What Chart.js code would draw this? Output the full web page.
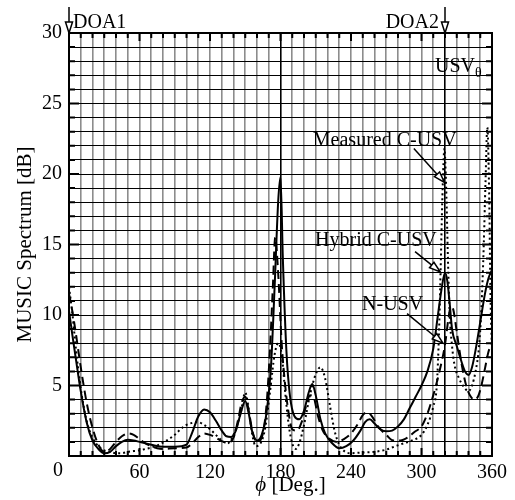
<!DOCTYPE html>
<html>
<head>
<meta charset="utf-8">
<style>
  html, body { margin: 0; padding: 0; background: #fff; }
  #wrap { width: 515px; height: 500px; }
</style>
</head>
<body>
<div id="wrap"><canvas id="spectrumChart"></canvas></div>

<script src="https://cdn.jsdelivr.net/npm/chart.js"></script>
<script>
// angles in degrees, spectrum in dB
const hybridDeg = [0,3,6,10,15,20,25,30,35,40,45,50,55,60,70,80,90,100,105,110,115,120,125,130,134,138,142,146,150,153,156,160,164,168,172,175,178,180,182,185,188,192,196,200,204,207,210,214,218,224,230,236,242,248,252,256,260,265,270,275,280,285,290,295,300,305,310,314,317,320,322,324,326,330,334,337,340,343,346,350,354,357,360];
const hybridDb  = [10.3,8.5,6.8,4.6,2.4,1.1,0.5,0.2,0.3,0.7,1.0,1.15,1.1,1.0,0.8,0.65,0.65,0.8,1.7,2.8,3.3,3.1,2.5,1.8,1.4,1.35,1.8,3.0,3.9,3.0,1.7,1.1,1.5,3.0,6.5,12,18,19.8,14,7.5,4.3,2.8,2.6,3.2,4.5,5.1,4.3,2.6,1.6,0.9,0.55,0.7,1.1,1.8,2.4,2.6,2.3,1.9,1.75,1.8,2.1,2.6,3.4,4.2,5.0,6.0,7.6,10.0,11.8,13.0,12.4,10.8,9.0,7.8,6.7,6.0,5.75,6.3,7.5,9.5,11.5,12.6,13.2];

const nusvDeg = [0,3,6,10,15,20,25,30,35,40,45,50,55,60,65,70,75,80,90,100,105,110,115,120,125,130,135,140,144,147,150,153,156,160,164,168,171,173.5,175.5,178,181,184,187,190,194,198,202,205,208,212,216,222,228,234,240,246,250,254,258,263,270,276,282,288,294,300,305,310,315,320,323,325,327,330,334,338,342,345,348,351,354,357,360];
const nusvDb  = [11.5,10.2,8.6,6.3,3.8,2.0,0.8,0.3,0.5,1.0,1.4,1.6,1.5,1.2,0.9,0.7,0.55,0.5,0.55,0.6,0.9,1.35,1.6,1.5,1.3,1.05,0.95,1.3,2.6,3.8,4.2,3.2,1.8,1.0,1.3,3.5,7.5,12,15.5,13,8,5,3,1.9,1.8,2.4,3.6,4.3,4.2,2.8,1.8,1.2,1.0,1.2,1.6,2.3,2.9,3.1,2.8,2.1,1.5,1.1,1.1,1.3,1.7,2.1,3.0,4.3,5.9,7.9,9.8,10.6,10.4,8.8,6.6,5.0,4.2,4.0,4.2,5.0,6.2,7.4,8.0];

const measDeg = [0,3,6,10,15,20,25,30,35,40,45,50,55,60,65,70,75,80,85,90,95,100,105,110,115,120,125,130,135,140,146,150,153,156,159,163,167,171,175,178,181,184,187,190,193,196,200,205,210,214,218,222,226,230,235,240,250,260,270,278,285,292,300,305,310,313,315,316.5,318,319.5,321,322.5,324,326,328,332,336,340,343,346,349,351,353,354.5,356,357.5,358.8,360];
const measDb  = [12,10,7.5,4.8,2.5,1.3,0.7,0.4,0.3,0.2,0.2,0.3,0.35,0.4,0.5,0.6,0.75,0.95,1.2,1.5,1.9,2.2,2.35,2.4,2.2,1.9,1.5,1.1,0.9,1.5,3.0,4.5,3.3,1.5,0.7,0.9,2.0,4.5,7.2,8.0,7.2,4.5,2.2,0.9,0.5,0.9,2.2,4.3,5.8,6.3,5.5,3.6,1.8,0.8,0.3,0.2,0.25,0.3,0.45,0.7,0.9,1.1,1.5,2.2,3.5,5,9,14,19,21.8,19,14,10,7.8,6.5,5.5,4.9,4.6,5.0,6.0,7.8,10.5,15,19.5,23.3,19,11,7.5];

const xLabels = [60, 120, 180, 240, 300, 360];
const yLabels = [5, 10, 15, 20, 25, 30];

const SERIF = '"Liberation Serif", "Times New Roman", serif';

function pts(xs, ys) { return xs.map((v, i) => ({ x: v, y: ys[i] })); }

function arrow(ctx, x1, y1, x2, y2) {
    const ang = Math.atan2(y2 - y1, x2 - x1);
    const len = 11, half = 3.5;
    const bx = x2 - len * Math.cos(ang), by = y2 - len * Math.sin(ang);
    ctx.beginPath();
    ctx.moveTo(x1, y1);
    ctx.lineTo(bx, by);
    ctx.stroke();
    ctx.beginPath();
    ctx.moveTo(x2, y2);
    ctx.lineTo(bx + half * Math.sin(ang), by - half * Math.cos(ang));
    ctx.lineTo(bx - half * Math.sin(ang), by + half * Math.cos(ang));
    ctx.closePath();
    ctx.fillStyle = '#fff';
    ctx.fill();
    ctx.stroke();
}

const overlay = {
    id: 'overlay',
    afterDraw(chart) {
        const { ctx, chartArea: a, scales: { x, y } } = chart;
        ctx.save();
        ctx.strokeStyle = '#000';
        ctx.lineWidth = 2;
        // tick marks on all four sides
        ctx.beginPath();
        for (let d = 0; d <= 360; d += 10) {
            const px = x.getPixelForValue(d);
            const L = d % 60 === 0 ? 8 : 5;
            ctx.moveTo(px, a.top); ctx.lineTo(px, a.top + L);
            ctx.moveTo(px, a.bottom); ctx.lineTo(px, a.bottom - L);
        }
        for (let v = 0; v <= 30; v++) {
            const py = y.getPixelForValue(v);
            const L = v % 5 === 0 ? 10 : 6;
            ctx.moveTo(a.left, py); ctx.lineTo(a.left + L, py);
            ctx.moveTo(a.right, py); ctx.lineTo(a.right - L, py);
        }
        ctx.stroke();
        ctx.strokeRect(a.left, a.top, a.right - a.left, a.bottom - a.top);

        ctx.fillStyle = '#000';
        ctx.font = '20px ' + SERIF;
        ctx.textBaseline = 'alphabetic';

        // x label "0" sits left of the origin
        ctx.textAlign = 'right';
        ctx.fillText('0', a.left - 6, a.bottom + 20);

        // DOA markers
        ctx.lineWidth = 1.5;
        const d1 = x.getPixelForValue(0), d2 = x.getPixelForValue(320);
        arrow(ctx, d1, a.top - 26, d1, a.top);
        arrow(ctx, d2, a.top - 26, d2, a.top);
        ctx.fillStyle = '#000';
        ctx.textAlign = 'left';
        ctx.fillText('DOA1', d1 + 4, a.top - 5);
        ctx.textAlign = 'right';
        ctx.fillText('DOA2', d2 - 6, a.top - 5);

        // USV_theta
        ctx.textAlign = 'left';
        const ux = x.getPixelForValue(311.5), uy = y.getPixelForValue(27.2);
        ctx.fillText('USV', ux, uy);
        const uw = ctx.measureText('USV').width;
        ctx.font = '14px ' + SERIF;
        ctx.fillText('θ', ux + uw, uy + 5);

        // curve labels with arrows
        ctx.font = '20px ' + SERIF;
        const labels = [
            { text: 'Measured C-USV', tx: 207.5, ty: 22.0, from: [293.5, 21.8], to: [319.5, 19.4] },
            { text: 'Hybrid C-USV', tx: 209.4, ty: 14.9, from: [294.5, 14.5], to: [316.0, 13.05] },
            { text: 'N-USV', tx: 249.4, ty: 10.35, from: [287.7, 10.1], to: [318.3, 8.0] }
        ];
        labels.forEach(l => {
            ctx.fillStyle = '#000';
            ctx.fillText(l.text, x.getPixelForValue(l.tx), y.getPixelForValue(l.ty));
            arrow(ctx, x.getPixelForValue(l.from[0]), y.getPixelForValue(l.from[1]),
                       x.getPixelForValue(l.to[0]), y.getPixelForValue(l.to[1]));
        });

        // x axis title: italic phi + [Deg.]
        ctx.fillStyle = '#000';
        const phi = 'ϕ', rest = ' [Deg.]';
        ctx.font = 'italic 21px ' + SERIF;
        const w1 = ctx.measureText(phi).width;
        ctx.font = '21px ' + SERIF;
        const w2 = ctx.measureText(rest).width;
        const cx = (a.left + a.right) / 2 + 10;
        const sx = cx - (w1 + w2) / 2;
        ctx.textAlign = 'left';
        ctx.font = 'italic 21px ' + SERIF;
        ctx.fillText(phi, sx, 491);
        ctx.font = '21px ' + SERIF;
        ctx.fillText(rest, sx + w1, 491);
        ctx.restore();
    }
};

Chart.defaults.font.family = SERIF;
Chart.defaults.color = '#000';

new Chart(document.getElementById('spectrumChart'), {
    type: 'line',
    data: {
        datasets: [
            { label: 'Hybrid C-USV', data: pts(hybridDeg, hybridDb), borderColor: '#000', borderWidth: 2, pointRadius: 0, cubicInterpolationMode: 'monotone', fill: false },
            { label: 'N-USV', data: pts(nusvDeg, nusvDb), borderColor: '#000', borderWidth: 2, borderDash: [9, 5], pointRadius: 0, cubicInterpolationMode: 'monotone', fill: false },
            { label: 'Measured C-USV', data: pts(measDeg, measDb), borderColor: '#000', borderWidth: 2, borderDash: [2, 3], pointRadius: 0, cubicInterpolationMode: 'monotone', fill: false }
        ]
    },
    options: {
        responsive: true,
        maintainAspectRatio: false,
        animation: false,
        layout: { padding: { left: 0, right: 23, top: 33, bottom: 0 } },
        plugins: { legend: { display: false }, tooltip: { enabled: false } },
        scales: {
            x: {
                type: 'linear', min: 0, max: 360,
                afterFit: s => { s.height = 44; },
                border: { display: false },
                grid: {
                    drawTicks: false,
                    lineWidth: 1.6,
                    color: c => (c.tick && (c.tick.value === 180 || c.tick.value === 320)) ? '#000' : '#8c8c8c'
                },
                ticks: {
                    stepSize: 10, autoSkip: false, maxRotation: 0, padding: 5,
                    font: { size: 20 },
                    callback: v => xLabels.includes(v) ? String(v) : ''
                }
            },
            y: {
                min: 0, max: 30,
                afterFit: s => { s.width = 69; },
                border: { display: false },
                grid: { drawTicks: false, lineWidth: 1, color: '#000' },
                ticks: {
                    stepSize: 1, autoSkip: false, padding: 7,
                    font: { size: 20 },
                    callback: v => yLabels.includes(v) ? String(v) : ''
                },
                title: { display: true, text: 'MUSIC Spectrum [dB]', font: { size: 21 }, padding: { top: 13, bottom: 0 } }
            }
        }
    },
    plugins: [overlay]
});
</script>
</body>
</html>
